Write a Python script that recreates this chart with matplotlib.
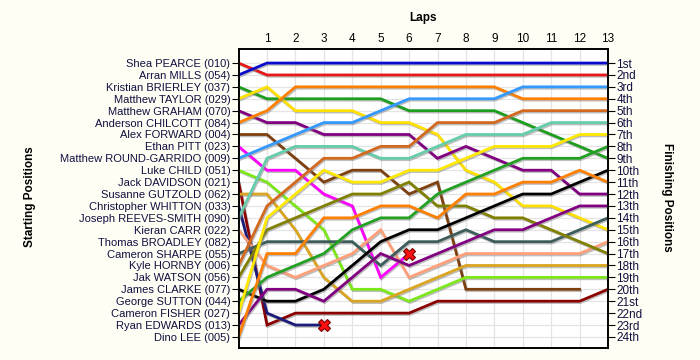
import numpy as np
import matplotlib.pyplot as plt
import matplotlib.patheffects as pe

plt.rcParams['font.family'] = ['Liberation Sans', 'DejaVu Sans']

# starting grid, top to bottom
starters = ["Shea PEARCE (010)", "Arran MILLS (054)", "Kristian BRIERLEY (037)",
            "Matthew TAYLOR (029)", "Matthew GRAHAM (070)", "Anderson CHILCOTT (084)",
            "Alex FORWARD (004)", "Ethan PITT (023)", "Matthew ROUND-GARRIDO (009)",
            "Luke CHILD (051)", "Jack DAVIDSON (021)", "Susanne GUTZOLD (062)",
            "Christopher WHITTON (033)", "Joseph REEVES-SMITH (090)", "Kieran CARR (022)",
            "Thomas BROADLEY (082)", "Cameron SHARPE (055)", "Kyle HORNBY (006)",
            "Jak WATSON (056)", "James CLARKE (077)", "George SUTTON (044)",
            "Cameron FISHER (027)", "Ryan EDWARDS (013)", "Dino LEE (005)"]
finish_labels = ["1st", "2nd", "3rd"] + [f"{i}th" for i in range(4, 21)] + ["21st", "22nd", "23rd", "24th"]

# position at end of each lap (index 0 = grid)
pearce = [1, 2, 2, 2, 2, 2, 2, 2, 2, 2, 2, 2, 2, 2]
mills = [2, 1, 1, 1, 1, 1, 1, 1, 1, 1, 1, 1, 1, 1]
brierley = [3, 4, 4, 4, 4, 4, 5, 5, 5, 5, 6, 7, 8, 9]
taylor = [4, 3, 5, 5, 5, 6, 6, 7, 10, 11, 13, 13, 14, 15]
graham = [5, 6, 6, 7, 7, 7, 7, 9, 8, 9, 10, 10, 12, 12]
chilcott = [6, 5, 3, 3, 3, 3, 3, 3, 3, 3, 4, 4, 4, 4]
forward = [7, 7, 9, 11, 10, 10, 12, 11, 20, 20, 20, 20, 20]
pitt = [8, 10, 10, 12, 13, 19, 17]
round_garrido = [9, 8, 7, 6, 6, 5, 4, 4, 4, 4, 3, 3, 3, 3]
child = [10, 11, 13, 15, 20, 20, 21, 20, 19, 19, 19, 19, 19, 19]
davidson = [11, 23, 22, 22, 22, 22, 22, 21, 21, 21, 21, 21, 21, 20]
gutzold = [12, 12, 15, 19, 21, 21, 20, 19, 18, 18, 18, 18, 18, 18]
whitton = [13, 22, 23, 23]
reeves_smith = [14, 9, 8, 8, 8, 9, 9, 8, 7, 7, 7, 6, 6, 6]
carr = [15, 18, 19, 18, 17, 15, 19, 18, 17, 17, 17, 17, 17, 16]
sharpe = [17, 16, 16, 16, 16, 18, 16, 16, 15, 16, 16, 16, 15, 14]
hornby = [18, 13, 11, 9, 9, 8, 8, 6, 6, 6, 5, 5, 5, 5]
watson = [19, 15, 14, 13, 12, 12, 11, 13, 13, 14, 14, 15, 16, 17]
clarke = [20, 21, 21, 20, 18, 16, 15, 15, 14, 13, 12, 12, 11, 10]
sutton = [21, 19, 18, 17, 15, 14, 14, 12, 11, 10, 9, 9, 9, 8]
fisher = [22, 14, 12, 10, 11, 11, 10, 10, 9, 8, 8, 8, 7, 7]
edwards = [23, 20, 20, 21, 19, 17, 18, 17, 16, 15, 15, 14, 13, 13]
lee = [24, 17, 17, 14, 14, 13, 13, 14, 12, 12, 11, 11, 10, 11]

drivers = [
    (pearce, "#E81818", False), (mills, "#0A0ACC", False), (brierley, "#1E9E1E", False),
    (taylor, "#FFE000", False), (graham, "#800080", False), (chilcott, "#FF8000", False),
    (forward, "#7F4010", False), (pitt, "#FF00FF", True), (round_garrido, "#3399FF", False),
    (child, "#7CE81C", False), (davidson, "#8B0000", False), (gutzold, "#DAA520", False),
    (whitton, "#1C1C78", True), (reeves_smith, "#66CDAA", False), (carr, "#FFA07A", False),
    (sharpe, "#3D5C5C", False), (hornby, "#D2691E", False), (watson, "#808000", False),
    (clarke, "#000000", False), (sutton, "#22A022", False), (fisher, "#FFE800", False),
    (edwards, "#800080", False), (lee, "#FF8000", False),
]

fig = plt.figure(figsize=(7, 3.6), dpi=100, facecolor="#FFFEF4")
ax = fig.add_axes([238.6 / 700, 12 / 360, (608 - 238.6) / 700, 299 / 360])
ax.set_facecolor("white")

shadow = [pe.SimpleLineShadow(offset=(0.7, -1.0), shadow_color="#808080", alpha=0.5), pe.Normal()]
for pos, col, out in drivers:
    ax.plot(range(len(pos)), pos, color=col, lw=2.0, path_effects=shadow, solid_joinstyle="miter", zorder=3)
    if out:
        ax.plot(len(pos) - 1, pos[-1], "X", color="#FF1010", mec="#7A0000", mew=0.8, ms=9, zorder=5)

ax.set_xlim(0, 13)
ax.set_ylim(24.93, -0.18)
ax.xaxis.tick_top()
ax.set_xticks(range(1, 14))
ax.tick_params(axis="x", length=0, labelsize=8.5, pad=3)
ax.set_yticks(range(1, 25))
ax.set_yticklabels(starters)
ax.tick_params(axis="y", length=5, labelsize=8, pad=1, colors="black", labelcolor="#101040")
ax.grid(True, color="#E4E4E4", lw=0.9, zorder=0)

ax2 = ax.twinx()
ax2.set_ylim(ax.get_ylim())
ax2.set_yticks(range(1, 25))
ax2.set_yticklabels(finish_labels)
ax2.tick_params(axis="y", length=5, labelsize=8.5, pad=1, labelcolor="#101040")

for sp in ["left", "right", "top", "bottom"]:
    ax.spines[sp].set_linewidth(1.2)
    ax2.spines[sp].set_linewidth(1.2)

fig.text(423 / 700, 1 - 18 / 360, "Laps", ha="center", va="center", fontsize=8.5, fontweight="bold")
fig.text(30 / 700, 1 - 197 / 360, "Starting Positions", ha="center", va="center",
         rotation=90, fontsize=8.5, fontweight="bold")
fig.text(667 / 700, 1 - 197 / 360, "Finishing Positions", ha="center", va="center",
         rotation=270, fontsize=8.5, fontweight="bold")

fig.savefig("out.png", dpi=100, facecolor=fig.get_facecolor())
